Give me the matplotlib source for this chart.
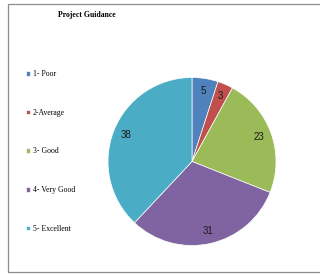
import matplotlib
matplotlib.use("Agg")
import matplotlib.pyplot as plt
from matplotlib.patches import Rectangle

# data
labels = ["1- Poor", "2-Average", "3- Good", "4- Very Good", "5- Excellent"]
values = [5, 3, 23, 31, 38]
colors = ["#4F81BD", "#C0504D", "#9BBB59", "#8064A2", "#4BACC6"]

W, H = 320, 275
fig = plt.figure(figsize=(W/100, H/100), dpi=100)

# outer frame (chart area border)
fig.patches.append(Rectangle((8/W, (H-272)/H), 330/W, 268/H, transform=fig.transFigure,
                             fill=False, edgecolor="#8c8c8c", linewidth=0.9))

# pie axes, centre ~ (192,161), radius ~84 px
cx, cy, r = 192, 161.5, 84
ax = fig.add_axes([(cx-r)/W, (H-cy-r)/H, 2*r/W, 2*r/H])
wedges, texts, autotexts = ax.pie(values, colors=colors, startangle=90, counterclock=False,
                                  autopct=lambda p: "%d" % round(p*sum(values)/100),
                                  pctdistance=0.85,
                                  wedgeprops=dict(edgecolor="white", linewidth=0.5))
for t in autotexts:
    t.set_fontsize(7)
    t.set_color("#1a1a1a")
    t.set_family("Liberation Sans")
ax.set_xlim(-1, 1)
ax.set_ylim(-1, 1)
ax.set_aspect("equal")

fig.text(87/W, 1-15/H, "Project Guidance", ha="center", va="center",
         family="Liberation Serif", fontweight="bold", fontsize=5.6)

fig.legend(wedges, labels, loc="upper left", bbox_to_anchor=(26/W, 1-70/H),
           frameon=False, prop=dict(family="Liberation Serif", size=5.6),
           handlelength=0.55, handleheight=0.55, handletextpad=0.3,
           labelspacing=3.95, borderaxespad=0, borderpad=0)

fig.savefig("out.png", dpi=100)
